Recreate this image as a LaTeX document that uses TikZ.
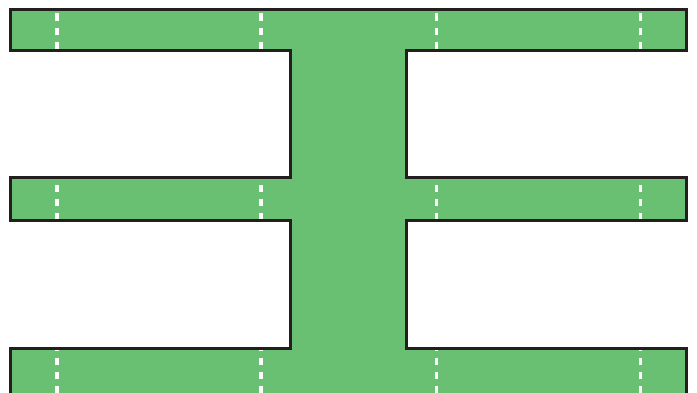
\documentclass[tikz,border=0pt]{standalone}
\definecolor{leafgreen}{RGB}{106,192,114}
\definecolor{outlineblack}{RGB}{35,31,32}
\newcommand{\ibeamshape}{(10.5,9.5) -- (686.2,9.5) -- (686.2,50.5) -- (406.5,50.5) -- (406.5,177.5) -- (686.2,177.5) -- (686.2,220.5) -- (406.5,220.5) -- (406.5,348.5) -- (686.2,348.5) -- (686.2,396) -- (10.5,396) -- (10.5,348.5) -- (290.5,348.5) -- (290.5,220.5) -- (10.5,220.5) -- (10.5,177.5) -- (290.5,177.5) -- (290.5,50.5) -- (10.5,50.5) -- cycle}
\tikzset{
  whitedash/.style={draw=white, line width=3.5pt, line cap=butt, dash pattern=on 7.2pt off 7pt},
  shapeoutline/.style={draw=outlineblack, line width=3pt, line join=miter}
}
\begin{document}
\begin{tikzpicture}[x=1pt,y=-1pt]
\useasboundingbox (0,0) rectangle (697,392);
\clip (0,0) rectangle (697,392);
\fill[leafgreen] \ibeamshape;
\foreach \xx in {57,261,436.3,640.5}{
  \draw[whitedash] (\xx,13.3) -- (\xx,49.6);
  \draw[whitedash] (\xx,185) -- (\xx,220);
  \draw[whitedash] (\xx,343.3) -- (\xx,396);
}
\draw[shapeoutline] \ibeamshape;
\end{tikzpicture}
\end{document}
